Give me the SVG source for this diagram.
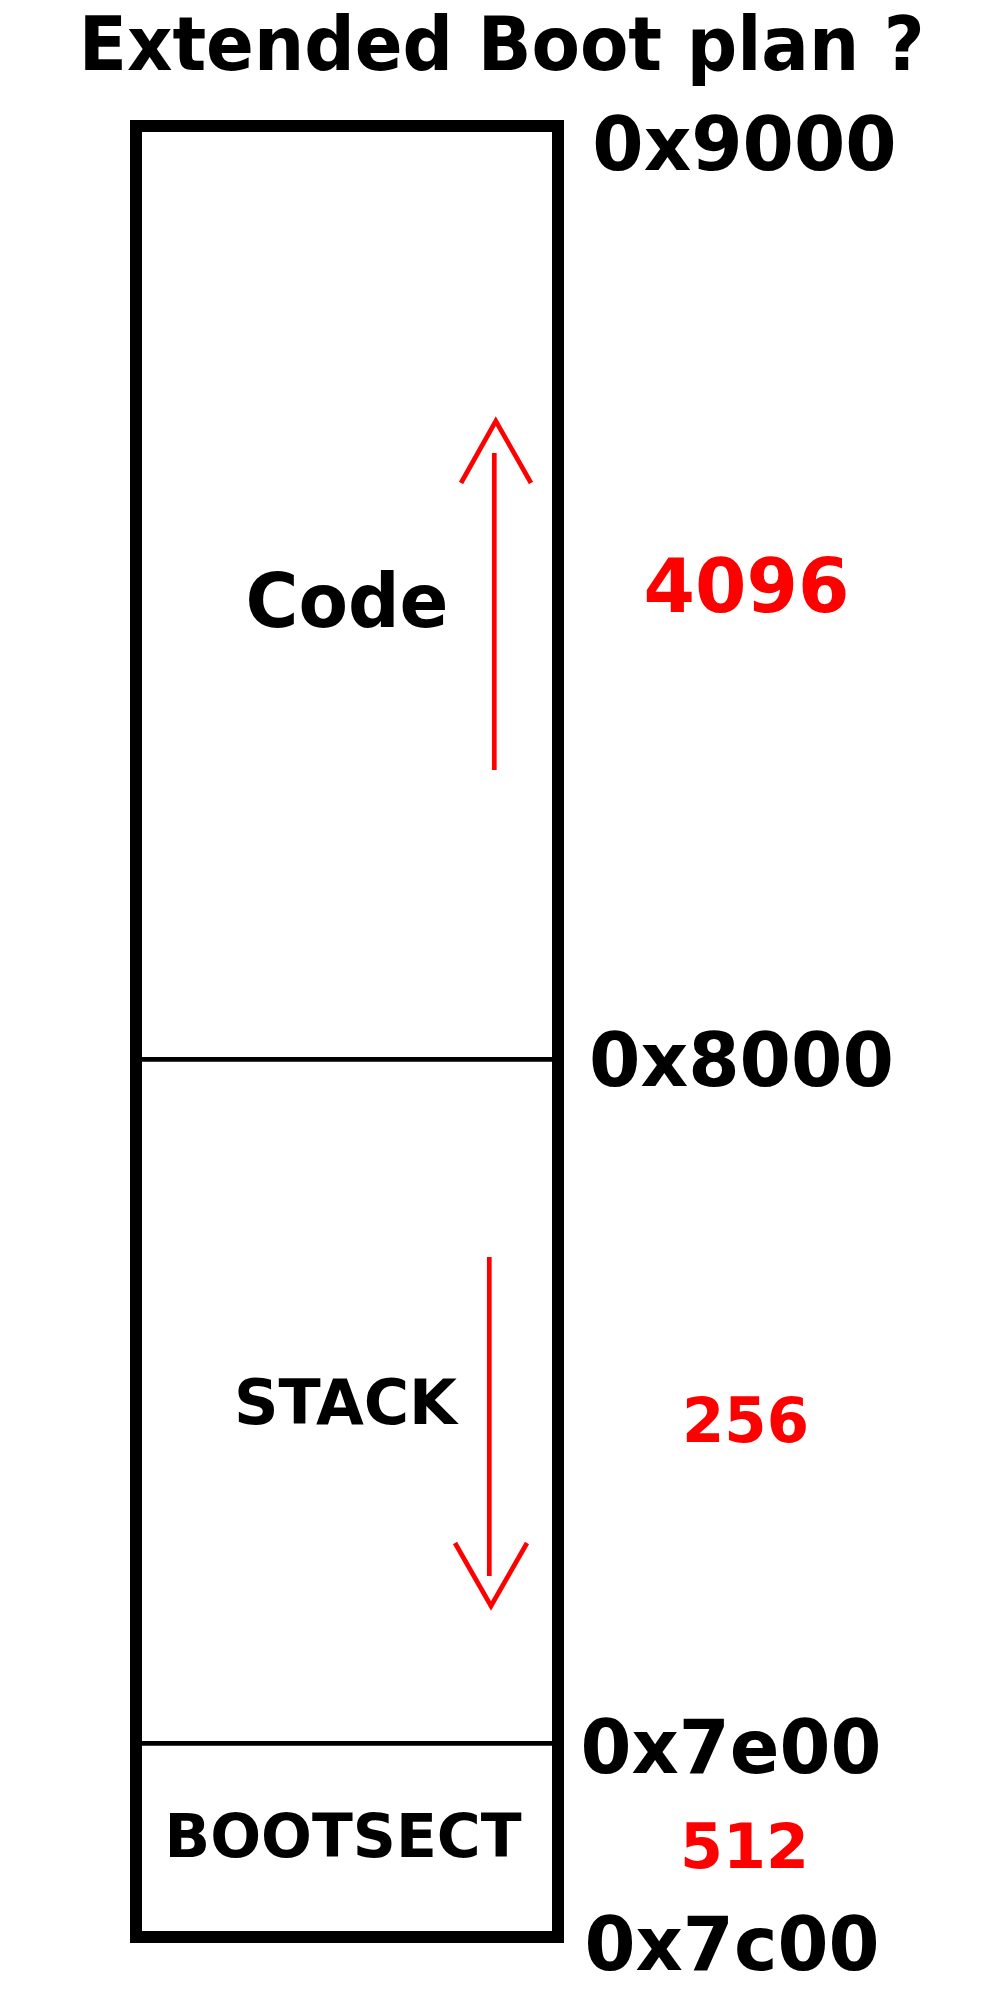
<svg xmlns="http://www.w3.org/2000/svg" width="1000" height="2000" viewBox="0 0 1000 2000">
<style>
text{font-family:"DejaVu Sans","Noto Sans",sans-serif;font-weight:bold;fill:#000}
.red{fill:#ff0000}
.arrow{stroke:#ff0000;stroke-width:4.7;fill:none}
.div{stroke:#000;stroke-width:4.7}
</style>
<rect width="1000" height="2000" fill="#fff"/>
<text id="title" x="78.7" y="69.5" font-size="74.5" textLength="846" lengthAdjust="spacingAndGlyphs">Extended Boot plan ?</text>
<g id="memory">
<rect x="136" y="126" width="422" height="1811" fill="none" stroke="#000" stroke-width="12"/>
<line class="div" x1="142" y1="1059.3" x2="552" y2="1059.3"/>
<line class="div" x1="142" y1="1743.3" x2="552" y2="1743.3"/>
</g>
<g id="code">
<text x="245.5" y="627" font-size="75" textLength="203" lengthAdjust="spacingAndGlyphs">Code</text>
</g>
<g id="stack">
<text x="234" y="1423.5" font-size="62" textLength="223" lengthAdjust="spacingAndGlyphs">STACK</text>
</g>
<g id="bootsect">
<text x="164.6" y="1857" font-size="60" textLength="357" lengthAdjust="spacingAndGlyphs">BOOTSECT</text>
</g>
<g id="addresses">
<text x="592.3" y="169.5" font-size="74.5" textLength="304.4" lengthAdjust="spacingAndGlyphs">0x9000</text>
<text x="589" y="1086" font-size="74" textLength="305" lengthAdjust="spacingAndGlyphs">0x8000</text>
<text x="580.5" y="1772.5" font-size="74" textLength="301" lengthAdjust="spacingAndGlyphs">0x7e00</text>
<text x="584.5" y="1970" font-size="74" textLength="295" lengthAdjust="spacingAndGlyphs">0x7c00</text>
</g>
<g id="sizes">
<text class="red" x="643.5" y="612" font-size="74" textLength="206" lengthAdjust="spacingAndGlyphs">4096</text>
<text class="red" x="682" y="1442" font-size="62" textLength="127" lengthAdjust="spacingAndGlyphs">256</text>
<text class="red" x="680" y="1868" font-size="62" textLength="129" lengthAdjust="spacingAndGlyphs">512</text>
</g>
<g id="connectors">
<line class="arrow" x1="494.3" y1="453" x2="494.3" y2="770"/>
<polyline class="arrow" points="461,483 495.8,421 531,483"/>
<line class="arrow" x1="489.3" y1="1257" x2="489.3" y2="1576"/>
<polyline class="arrow" points="455,1543 491,1606 527,1543"/>
</g>
</svg>
